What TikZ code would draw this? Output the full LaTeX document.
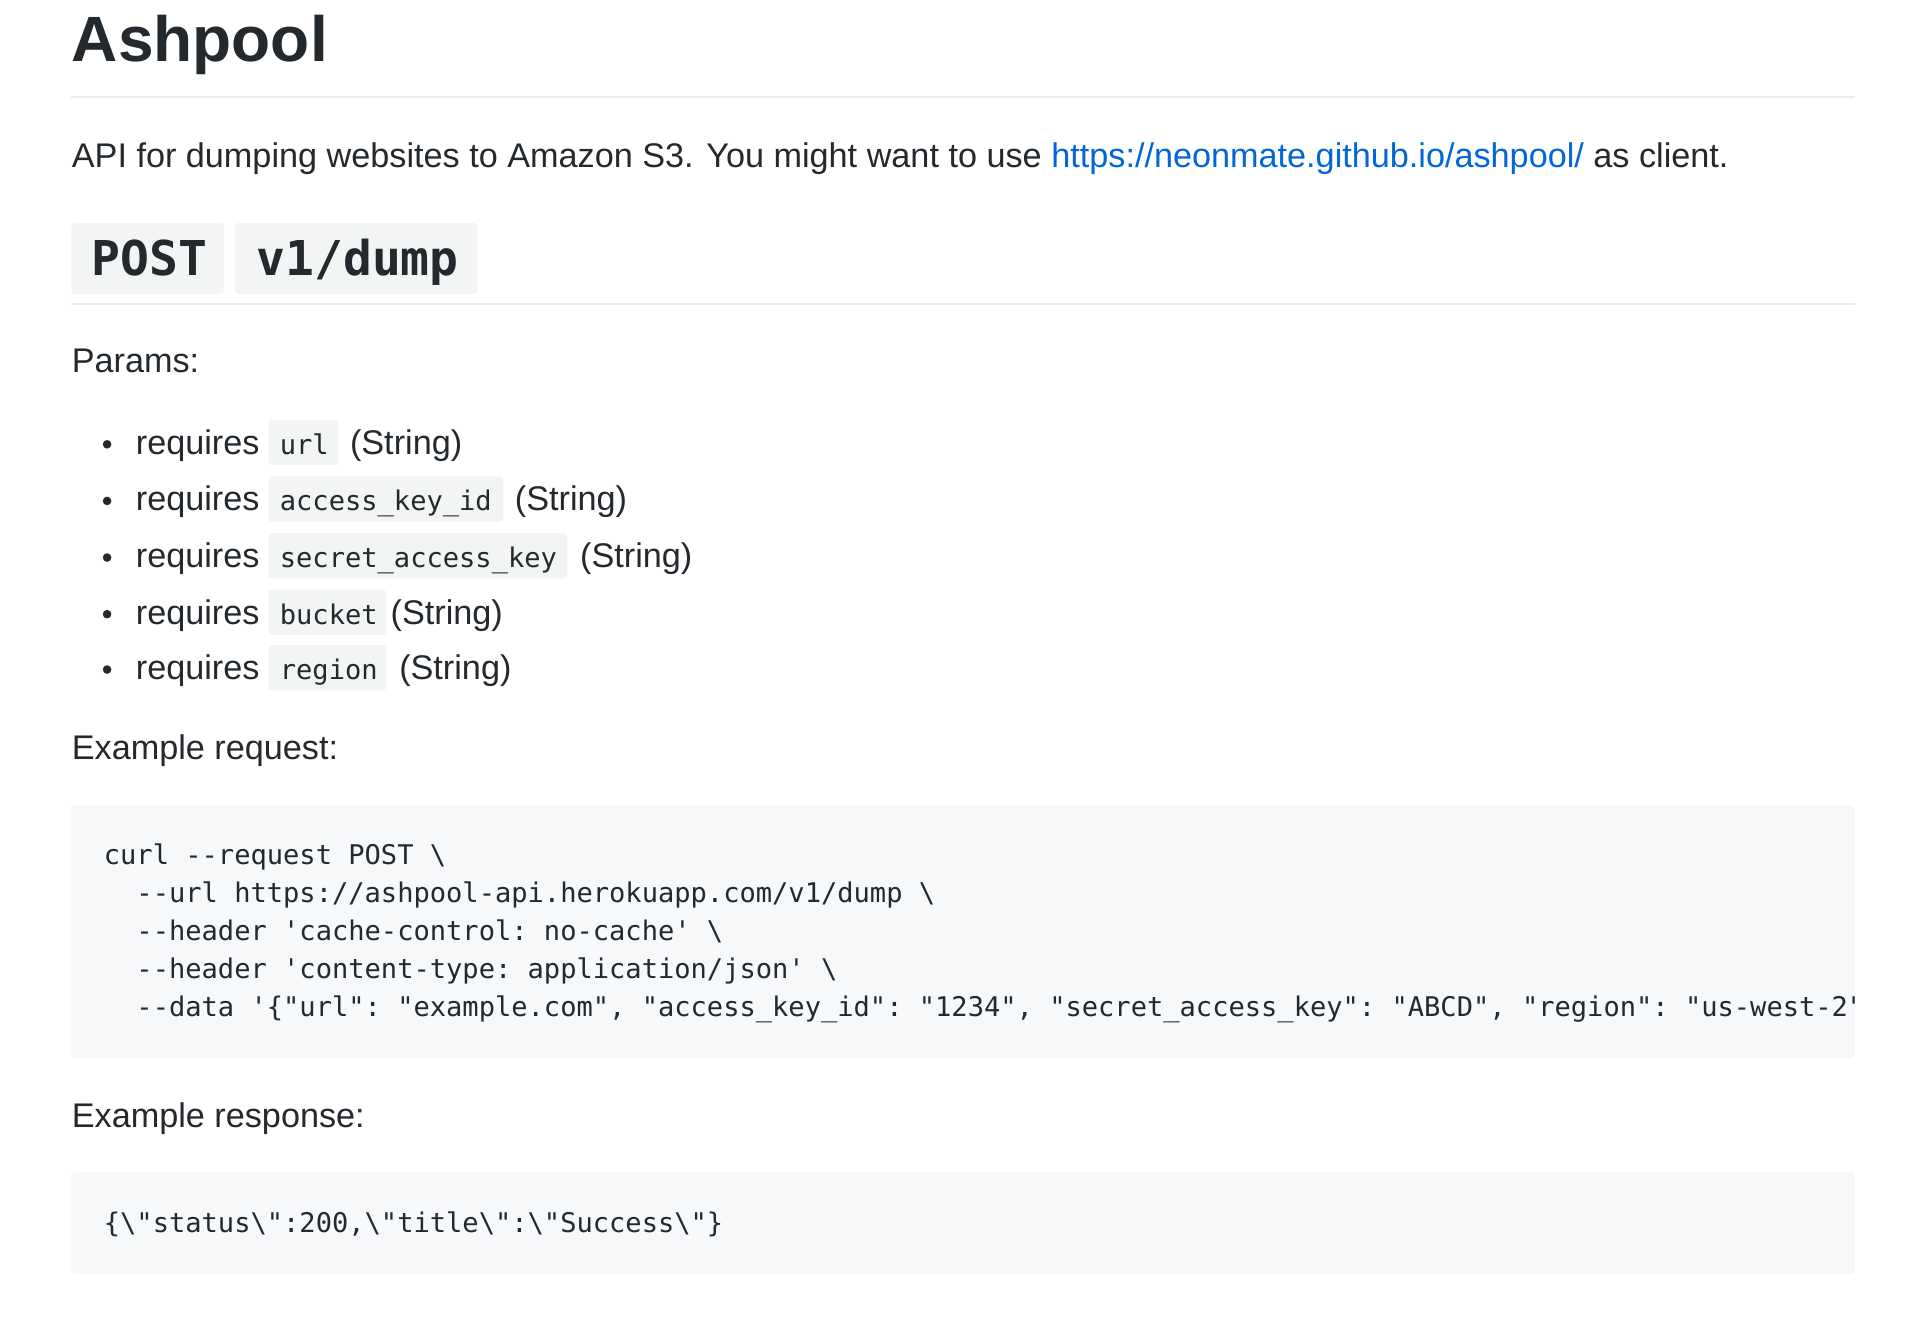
\documentclass[tikz,border=0pt]{standalone}
\usepackage{fontspec}
\setmainfont{Liberation Sans}
\setmonofont{DejaVu Sans Mono}
\begin{document}
\definecolor{txt}{HTML}{24292E}
\definecolor{lnk}{HTML}{0366D6}
\definecolor{cbg}{HTML}{F6F8FA}
\definecolor{ibg}{HTML}{F3F4F4}
\definecolor{rul}{HTML}{EAECEF}
\begin{tikzpicture}[x=0.5pt,y=-0.5pt,
  body/.style={anchor=base west,inner sep=0,text=txt,font=\fontsize{13.9}{16}\selectfont},
  code/.style={anchor=base west,inner sep=0,text=txt,font=\fontsize{11}{13}\ttfamily},
  ic/.style={fill=ibg,rounded corners=1.5pt},
  bul/.style={circle,fill=txt,inner sep=0,minimum size=3.5pt}]
\useasboundingbox (0,0) rectangle (1560,1082);
\node[body,font=\fontsize{26}{30}\selectfont\bfseries] (h) at (58,50) {Ashpool};
\draw[rul,line width=1pt] (58,79) -- (1507,79);
\node[body] (p1) at (58,136) {API for dumping websites to Amazon S3. You might want to use \textcolor{lnk}{https://neonmate.github.io/ashpool/} as client.};
\fill[ic] (58,181) rectangle (182,239);
\fill[ic] (191,181) rectangle (388,239);
\node[code,font=\fontsize{19.5}{22}\ttfamily\bfseries] (post) at (74,224) {POST};
\node[code,font=\fontsize{19.5}{22}\ttfamily\bfseries] (ep) at (208,224) {v1/dump};
\draw[rul,line width=1pt] (58,247) -- (1507,247);
\node[body] (params) at (58,303) {Params:};
\foreach \y/\w/\c/\x in {369/275/url/284, 415/409/access\_key\_id/418, 461/461/secret\_access\_key/471, 507/314/bucket/317, 552/314/region/324}{
  \node[bul] at (87,\y-8) {};
  \node[body] at (110,\y) {requires};
  \fill[ic] (218,\y-28) rectangle (\w,\y+9);
  \node[code] at (227,\y) {\c};
  \node[body] at (\x,\y) {(String)};
}
\node[body] (req) at (58,617) {Example request:};
\fill[cbg,rounded corners=1.5pt] (58,654) rectangle (1507,860);
\begin{scope}
\clip (58,654) rectangle (1507,860);
\node[code] (c1) at (84,702) {curl --request POST \textbackslash};
\node[code] (c2) at (84,733) {\ \ --url https://ashpool-api.herokuapp.com/v1/dump \textbackslash};
\node[code] (c3) at (84,764) {\ \ --header 'cache-control: no-cache' \textbackslash};
\node[code] (c4) at (84,795) {\ \ --header 'content-type: application/json' \textbackslash};
\node[code] (c5) at (84,826) {\ \ --data '\{"url": "example.com", "access\_key\_id": "1234", "secret\_access\_key": "ABCD", "region": "us-west-2"};
\end{scope}
\node[body] (resp) at (58,916) {Example response:};
\fill[cbg,rounded corners=1.5pt] (58,952) rectangle (1507,1035);
\node[code] (r1) at (84,1001) {\{\textbackslash"status\textbackslash":200,\textbackslash"title\textbackslash":\textbackslash"Success\textbackslash"\}};
\end{tikzpicture}
\end{document}
